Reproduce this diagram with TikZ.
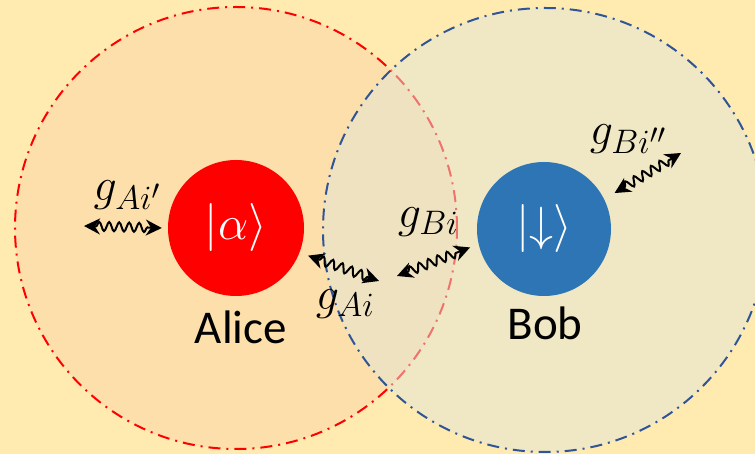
\RequirePackage{fix-cm}
\documentclass[tikz,border=0pt]{standalone}
\usepackage{amsmath,amssymb}
\usepackage{fontspec}
\setmainfont{Carlito}
\usepackage{tikz}
\usetikzlibrary{arrows.meta, positioning, decorations.pathmorphing}

\DeclareMathSizes{46}{46}{34}{28}
\DeclareMathSizes{48}{48}{36}{30}

\definecolor{bgyellow}{RGB}{255,234,176}
\definecolor{alicezone}{RGB}{252,223,171}
\definecolor{bobzone}{RGB}{227,229,216}
\definecolor{bobblue}{RGB}{46,117,182}
\definecolor{bobline}{RGB}{47,85,151}

\begin{document}
\begin{tikzpicture}[
    x=1pt, y=1pt,
    zone/.style={
        line width=2pt,
        dash pattern=on 12pt off 6pt on 2pt off 6pt
    },
    spin/.style={
        circle,
        inner sep=0pt,
        text=white,
        font=\fontsize{48}{52}\selectfont
    },
    party/.style={
        font=\fontsize{47}{50}\selectfont
    },
    coupling/.style={
        font=\fontsize{46}{50}\selectfont
    },
    wave/.style={
        line width=2pt,
        {Stealth[length=16pt,width=16pt]}-{Stealth[length=16pt,width=16pt]},
        decorate,
        decoration={snake, amplitude=4.5pt, segment length=10pt,
                    pre length=12pt, post length=12pt}
    }
]

\useasboundingbox (0,0) rectangle (755,454);
\fill[bgyellow] (0,0) rectangle (755,454);

% ------------------------------------------------------------
% interaction zones
% ------------------------------------------------------------
\fill[alicezone] (236,226) circle (221);
\draw[zone, red] (236,226) circle (221);
\fill[bobzone, fill opacity=0.5] (545,224) circle (222);
\draw[zone, bobline] (545,224) circle (222);

% ------------------------------------------------------------
% the two spins
% ------------------------------------------------------------
\node[spin, fill=red, minimum size=136pt] (alice) at (236,226) {\(|\alpha\rangle\)};
\node[spin, fill=bobblue, minimum size=134pt] (bob) at (544,225) {\(|{\downarrow}\rangle\)};

\node[party] (alicename) at (241,127) {Alice};
\node[party] (bobname) at (545,131) {Bob};

% couplings
\node[coupling] (gAp) at (127,259) {\(g_{Ai'}\)};
\node[coupling] (gA) at (345,150) {\(g_{Ai}\)};
\node[coupling] (gB) at (428,232) {\(g_{Bi}\)};
\node[coupling] (gBpp) at (628,315) {\(g_{Bi''}\)};

\coordinate (bathA) at (84,228);
\coordinate (midA) at (379,173);
\coordinate (midB) at (397,178);
\coordinate (bathB) at (681,301);

\draw[wave] (bathA) -- ([xshift=-6pt]alice.west);
\draw[wave] ([shift={(-21:9pt)}]alice.-21) -- (midA);
\draw[wave] (midB) -- ([shift={(194:9pt)}]bob.194);
\draw[wave] ([shift={(27:12pt)}]bob.27) -- (bathB);

\end{tikzpicture}
\end{document}
